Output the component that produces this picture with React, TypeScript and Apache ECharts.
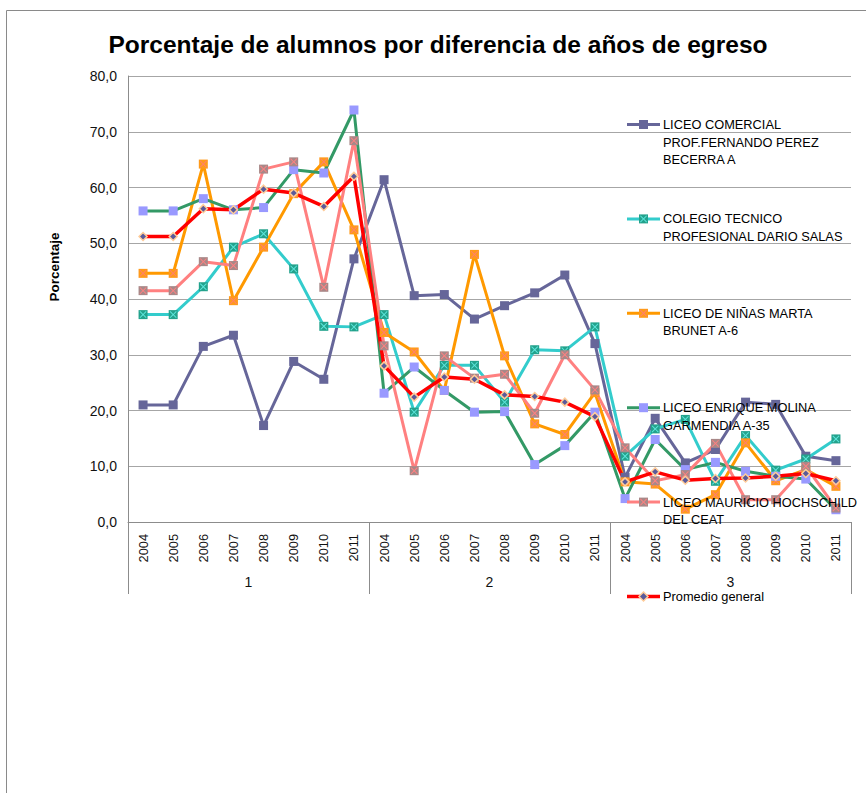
import React, { useEffect, useRef } from "react";
import * as echarts from "echarts";

const groups = ["1", "2", "3"];
const years = ["2004", "2005", "2006", "2007", "2008", "2009", "2010", "2011"];
const yTicks = { min: 0, max: 80, interval: 10 };

const seriesNames = [
  "LICEO COMERCIAL PROF.FERNANDO PEREZ BECERRA A",
  "COLEGIO TECNICO PROFESIONAL DARIO SALAS",
  "LICEO DE NIÑAS MARTA BRUNET A-6",
  "LICEO ENRIQUE MOLINA GARMENDIA A-35",
  "LICEO MAURICIO HOCHSCHILD DEL CEAT",
  "Promedio general",
];
const legendLabels = [
  "LICEO COMERCIAL\nPROF.FERNANDO PEREZ\nBECERRA A",
  "COLEGIO TECNICO\nPROFESIONAL DARIO SALAS",
  "LICEO DE NIÑAS MARTA\nBRUNET A-6",
  "LICEO ENRIQUE MOLINA\nGARMENDIA A-35",
  "LICEO MAURICIO HOCHSCHILD\nDEL CEAT",
  "Promedio general",
];

const comercial = [21.0, 21.0, 31.5, 33.5, 17.3, 28.8, 25.6, 47.2, 61.4, 40.6, 40.8, 36.4, 38.8, 41.1, 44.3, 32.0, 8.0, 18.6, 10.6, 13.0, 21.5, 21.1, 11.8, 11.0];
const tecnico = [37.2, 37.2, 42.2, 49.3, 51.7, 45.4, 35.1, 35.0, 37.2, 19.7, 28.1, 28.1, 21.5, 30.9, 30.7, 35.0, 11.8, 16.7, 18.4, 7.3, 15.5, 9.3, 11.3, 14.9];
const ninas = [44.6, 44.6, 64.2, 39.7, 49.3, 58.9, 64.6, 52.4, 34.0, 30.5, 23.6, 48.0, 29.8, 17.6, 15.7, 23.2, 7.2, 6.8, 2.3, 4.9, 14.2, 7.4, 9.4, 6.4];
const enrique = [55.8, 55.8, 58.0, 56.0, 56.4, 63.2, 62.6, 73.9, 23.1, 27.8, 23.6, 19.7, 19.8, 10.3, 13.7, 19.7, 4.2, 14.8, 9.4, 10.7, 9.1, 8.2, 7.7, 2.2];
const mauricio = [41.5, 41.5, 46.7, 46.0, 63.3, 64.6, 42.1, 68.4, 31.6, 9.2, 29.8, 25.8, 26.5, 19.5, 30.0, 23.7, 13.3, 7.4, 8.5, 14.1, 4.0, 4.0, 10.0, 2.5];
const promedio = [51.2, 51.2, 56.2, 56.0, 59.7, 59.0, 56.6, 62.0, 28.0, 22.4, 26.0, 25.6, 22.8, 22.5, 21.5, 18.9, 7.2, 9.0, 7.5, 7.8, 7.9, 8.2, 8.7, 7.4];

const seriesData = [comercial, tecnico, ninas, enrique, mauricio, promedio];

const styles = [
  { line: "#666699", width: 3, symbol: "rect", fill: "#666699", cross: null, size: 9 },
  { line: "#33CCCC", width: 3, symbol: "rect", fill: "#23A28C", cross: "#5EE6DC", size: 9 },
  { line: "#FF9900", width: 3, symbol: "rect", fill: "#FF9A1A", cross: "#FF7F70", size: 9 },
  { line: "#339966", width: 3, symbol: "rect", fill: "#9999FF", cross: null, size: 9 },
  { line: "#FF8080", width: 3, symbol: "rect", fill: "#A88888", cross: "#FF8080", size: 9 },
  { line: "#FF0000", width: 3.5, symbol: "diamond", fill: "#5A5A9A", border: "#FFCC99", cross: null, size: 8 },
];

const xPath =
  "path://M1,0 L5,4 L9,0 L10,1 L6,5 L10,9 L9,10 L5,6 L1,10 L0,9 L4,5 L0,1 Z";

const FONT = "'Liberation Sans', Arial, sans-serif";

export default function App() {
  const ref = useRef<HTMLDivElement>(null);

  useEffect(() => {
    if (!ref.current) return;
    const chart = echarts.init(ref.current, null, { renderer: "svg" });
    const categories = groups.flatMap((g) => years.map((y) => `${g}-${y}`));

    const series: any[] = [];
    seriesData.forEach((data, i) => {
      const s = styles[i];
      series.push({
        name: seriesNames[i],
        type: "line",
        data,
        symbol: s.symbol,
        symbolSize: s.size,
        showSymbol: true,
        lineStyle: { color: s.line, width: s.width },
        itemStyle: {
          color: s.fill,
          borderColor: (s as any).border || s.fill,
          borderWidth: (s as any).border ? 1.5 : 0,
        },
        z: 2,
      });
      if (s.cross) {
        series.push({
          name: seriesNames[i] + " marker",
          type: "line",
          data,
          symbol: xPath,
          symbolSize: 7,
          showSymbol: true,
          silent: true,
          lineStyle: { width: 0, opacity: 0 },
          itemStyle: { color: s.cross },
          z: 2,
        });
      }
    });

    // Legend drawn as graphic elements
    const legendEls: any[] = [];
    seriesData.forEach((_, i) => {
      const s = styles[i];
      const cy = 124.5 + 94.4 * i;
      const cx = 643.5;
      legendEls.push({
        type: "line",
        shape: { x1: 627, y1: cy, x2: 660, y2: cy },
        style: { stroke: s.line, lineWidth: s.width },
        z: 100,
      });
      if (s.symbol === "rect") {
        legendEls.push({
          type: "rect",
          shape: { x: cx - 4.5, y: cy - 4.5, width: 9, height: 9 },
          style: { fill: s.fill },
          z: 101,
        });
      } else {
        legendEls.push({
          type: "polygon",
          shape: { points: [[cx, cy - 4.5], [cx + 4.5, cy], [cx, cy + 4.5], [cx - 4.5, cy]] },
          style: { fill: s.fill, stroke: (s as any).border, lineWidth: 1.5 },
          z: 101,
        });
      }
      if (s.cross) {
        const h = 3.5;
        legendEls.push({
          type: "polygon",
          shape: {
            points: [
              [cx - h + 0.7, cy - h], [cx, cy - 0.7], [cx + h - 0.7, cy - h], [cx + h, cy - h + 0.7],
              [cx + 0.7, cy], [cx + h, cy + h - 0.7], [cx + h - 0.7, cy + h], [cx, cy + 0.7],
              [cx - h + 0.7, cy + h], [cx - h, cy + h - 0.7], [cx - 0.7, cy], [cx - h, cy - h + 0.7],
            ],
          },
          style: { fill: s.cross },
          z: 102,
        });
      }
      legendEls.push({
        type: "text",
        x: 663,
        y: cy - 8.85,
        style: {
          text: legendLabels[i],
          fill: "#000",
          font: `12.8px ${FONT}`,
          lineHeight: 17.7,
          textVerticalAlign: "top",
          verticalAlign: "top",
        },
        z: 103,
      });
    });

    const option: any = {
      animation: false,
      grid: { left: 128, right: 15, top: 76, bottom: 271, containLabel: false },
      xAxis: [
        {
          type: "category",
          data: categories,
          boundaryGap: true,
          axisLine: { show: true, lineStyle: { color: "#8c8c8c", width: 1 } },
          axisTick: { show: false },
          splitLine: { show: false },
          axisLabel: {
            interval: 0,
            rotate: 90,
            margin: 12,
            fontSize: 12.8,
            fontFamily: FONT,
            color: "#111",
            formatter: (v: string) => v.split("-")[1],
          },
        },
        {
          type: "category",
          data: groups,
          position: "bottom",
          boundaryGap: true,
          axisLine: { show: false },
          axisTick: { show: true, length: 72, interval: 0, lineStyle: { color: "#8c8c8c", width: 1 } },
          splitLine: { show: false },
          axisLabel: { margin: 53, fontSize: 14, fontFamily: FONT, color: "#111" },
        },
      ],
      yAxis: {
        type: "value",
        min: yTicks.min,
        max: yTicks.max,
        interval: yTicks.interval,
        axisLine: { show: true, lineStyle: { color: "#8c8c8c", width: 1 } },
        axisTick: { show: false },
        splitLine: { show: true, lineStyle: { color: "#a6a6a6", width: 1 } },
        axisLabel: {
          margin: 11,
          fontSize: 14,
          fontFamily: FONT,
          color: "#111",
          formatter: (v: number) => v.toFixed(1).replace(".", ","),
        },
      },
      series,
      graphic: [
        {
          type: "rect",
          shape: { x: 6.5, y: 10.5, width: 880, height: 820 },
          style: { fill: "none", stroke: "#8a8a8a", lineWidth: 1 },
          z: 0,
        },
        {
          type: "text",
          x: 438,
          y: 44,
          style: {
            text: "Porcentaje de alumnos por diferencia de años de egreso",
            fill: "#000",
            font: `bold 24.5px ${FONT}`,
            textAlign: "center",
            textVerticalAlign: "middle",
            align: "center",
            verticalAlign: "middle",
          },
          z: 100,
        },
        {
          type: "text",
          x: 54,
          y: 267,
          rotation: Math.PI / 2,
          style: {
            text: "Porcentaje",
            fill: "#000",
            font: `bold 13.5px ${FONT}`,
            textAlign: "center",
            textVerticalAlign: "middle",
            align: "center",
            verticalAlign: "middle",
          },
          z: 100,
        },
        ...legendEls,
      ],
    };

    chart.setOption(option);
    return () => chart.dispose();
  }, []);

  return (
    <div
      ref={ref}
      style={{ position: "fixed", left: 0, top: 0, width: 866, height: 793, background: "#fff" }}
    />
  );
}
